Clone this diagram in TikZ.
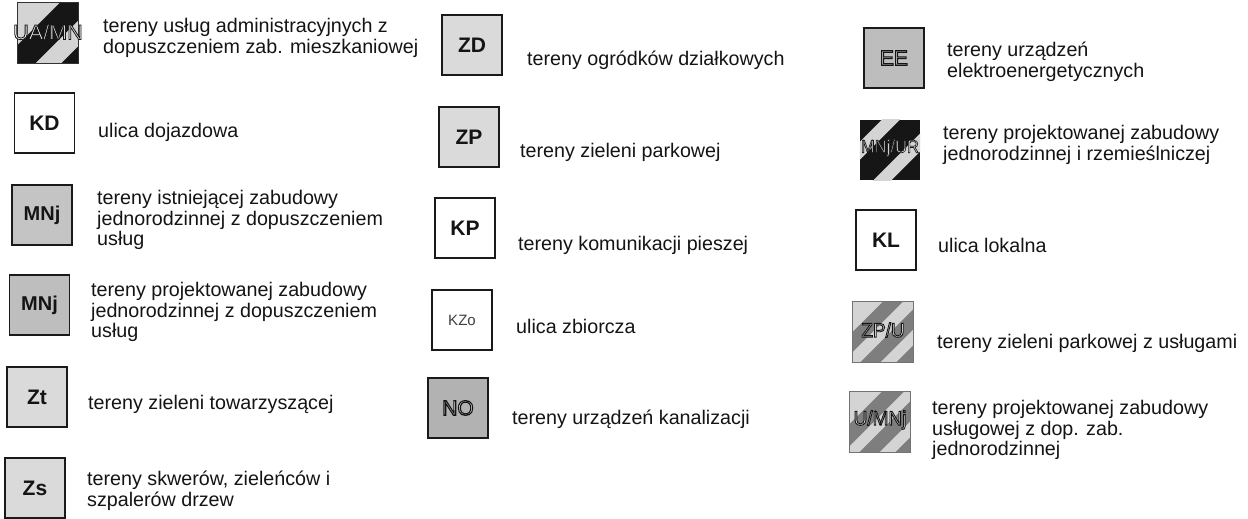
\documentclass[tikz,border=0pt]{standalone}
\usepackage{fontspec}
\setmainfont{Liberation Sans}
\definecolor{inkc}{HTML}{1A1A1A}
\definecolor{txtc}{HTML}{141414}
\definecolor{lightg}{HTML}{DADADA}
\definecolor{midg}{HTML}{C4C4C4}
\definecolor{mnjg}{HTML}{BEBEBE}
\definecolor{nog}{HTML}{B2B2B2}
\definecolor{eeg}{HTML}{BDBDBD}
\definecolor{stripelight}{HTML}{D4D4D4}
\definecolor{stripedark}{HTML}{161616}
\definecolor{stripemid}{HTML}{7E7E7E}
\tikzset{
  legbox/.style={draw=inkc, line width=1.8pt, minimum width=60pt, minimum height=60pt,
    inner sep=0pt, text=txtc, font=\fontsize{21}{21}\selectfont\bfseries},
  stripebox/.style={minimum width=60pt, minimum height=60pt, inner sep=0pt},
  stripelabel/.style={inner sep=0pt, font=\fontsize{20}{20}\selectfont},
  desc/.style={anchor=west, inner sep=0pt, align=left, text=txtc,
    font=\fontsize{19.7}{20.5}\selectfont},
}
% outlined text: fill colour #1, stroke (dark) width #2, text #3
\newcommand{\olt}[3]{{\color{#1}\special{pdf:literal direct 2 Tr #2 w 0.08 G}#3\special{pdf:literal direct 0 Tr}}}
\newcommand{\bandfill}[4]{%
  \fill[#4] ([shift={(#2+100,-100)}]#1.north west) -- ([shift={(#3+100,-100)}]#1.north west)
    -- ([shift={(#3-200,200)}]#1.north west) -- ([shift={(#2-200,200)}]#1.north west) -- cycle;}
\begin{document}
\begin{tikzpicture}[x=1pt,y=-1pt]
\useasboundingbox (0,0) rectangle (1248,519);
\fill[white] (0,0) rectangle (1248,519);

% ---------- column 1 ----------
\node[stripebox, fill=stripelight] (uamn) at (48,33) {};
\begin{scope}
  \clip (uamn.north west) rectangle (uamn.south east);
  \bandfill{uamn}{42}{78}{stripedark}
  \bandfill{uamn}{104}{140}{stripedark}
\end{scope}
\draw[line width=1pt, draw=black!80] (uamn.north west) rectangle (uamn.south east);
\node[stripelabel, font=\fontsize{21}{21}\selectfont] (uamnt) at ([yshift=1pt]uamn.center) {\scalebox{1.03}[1]{\olt{black!6}{0.8}{UA/MN}}};
\node[desc] (t1) at (103,38) {tereny usług administracyjnych z\\dopuszczeniem zab. mieszkaniowej};

\node[legbox, fill=white] (kd) at (44.5,123) {KD};
\node[desc] (t2) at (98,132) {ulica dojazdowa};

\node[legbox, fill=midg, font=\fontsize{20}{20}\selectfont\bfseries] (mnj1) at (42,215) {MNj};
\node[desc] (t3) at (97,220) {tereny istniejącej zabudowy\\jednorodzinnej z dopuszczeniem\\usług};

\node[legbox, fill=mnjg, font=\fontsize{20}{20}\selectfont\bfseries] (mnj2) at (39.5,305) {MNj};
\node[desc] (t4) at (91,312) {tereny projektowanej zabudowy\\jednorodzinnej z dopuszczeniem\\usług};

\node[legbox, fill=lightg] (zt) at (37,397) {Zt};
\node[desc] (t5) at (88,404) {tereny zieleni towarzyszącej};

\node[legbox, fill=lightg] (zs) at (35,488) {Zs};
\node[desc] (t6) at (87,491) {tereny skwerów, zieleńców i\\szpalerów drzew};

% ---------- column 2 ----------
\node[legbox, fill=lightg] (zd) at (472,45) {ZD};
\node[desc] (t7) at (527,60) {tereny ogródków działkowych};

\node[legbox, fill=lightg] (zp) at (469,137) {ZP};
\node[desc] (t8) at (520,152) {tereny zieleni parkowej};

\node[legbox, fill=white] (kp) at (465,228) {KP};
\node[desc] (t9) at (518,245) {tereny komunikacji pieszej};

\node[legbox, fill=white, font=\fontsize{15}{15}\selectfont, text=black!75, line width=1.4pt] (kzo) at (462,320) {KZo};
\node[desc] (t10) at (516,326) {ulica zbiorcza};

\node[legbox, fill=nog, font=\fontsize{21}{21}\selectfont] (no) at (458,408) {\olt{black!6}{1.1}{NO}};
\node[desc] (t11) at (512,419) {tereny urządzeń kanalizacji};

% ---------- column 3 ----------
\node[legbox, fill=eeg, font=\fontsize{21}{21}\selectfont] (ee) at (894,58) {\olt{black!4}{1.1}{EE}};
\node[desc] (t12) at (947,62) {tereny urządzeń\\elektroenergetycznych};

\node[stripebox, fill=stripedark] (mnjur) at (890,150) {};
\begin{scope}
  \clip (mnjur.north west) rectangle (mnjur.south east);
  \bandfill{mnjur}{22}{40}{stripelight}
  \bandfill{mnjur}{74}{92}{stripelight}
\end{scope}
\node[stripelabel, font=\fontsize{18}{18}\selectfont] (mnjurt) at ([yshift=2pt]mnjur.center) {\scalebox{0.92}[1]{\olt{black!6}{0.7}{MNj/UR}}};
\node[desc] (t13) at (943,145) {tereny projektowanej zabudowy\\jednorodzinnej i rzemieślniczej};

\node[legbox, fill=white] (kl) at (886,240) {KL};
\node[desc] (t14) at (938,245) {ulica lokalna};

\node[stripebox, fill=stripelight] (zpu) at (883,332) {};
\begin{scope}
  \clip (zpu.north west) rectangle (zpu.south east);
  \bandfill{zpu}{30}{50}{stripemid}
  \bandfill{zpu}{68}{88}{stripemid}
  \bandfill{zpu}{104}{140}{stripemid}
\end{scope}
\draw[line width=0.8pt, draw=black!55] (zpu.north west) rectangle (zpu.south east);
\node[stripelabel] (zput) at ([yshift=2pt]zpu.center) {\scalebox{0.95}[1]{\olt{black!10}{0.9}{ZP/U}}};
\node[desc] (t15) at (937,343) {tereny zieleni parkowej z usługami};

\node[stripebox, fill=stripelight] (umn) at (880,422) {};
\begin{scope}
  \clip (umn.north west) rectangle (umn.south east);
  \bandfill{umn}{32}{54}{stripemid}
  \bandfill{umn}{70}{90}{stripemid}
  \bandfill{umn}{106}{140}{stripemid}
\end{scope}
\draw[line width=0.8pt, draw=black!55] (umn.north west) rectangle (umn.south east);
\node[stripelabel] (umnt) at ([yshift=2pt]umn.center) {\scalebox{0.95}[1]{\olt{black!10}{0.9}{U/MNj}}};
\node[desc] (t16) at (932,430) {tereny projektowanej zabudowy\\usługowej z dop. zab.\\jednorodzinnej};
\end{tikzpicture}
\end{document}
